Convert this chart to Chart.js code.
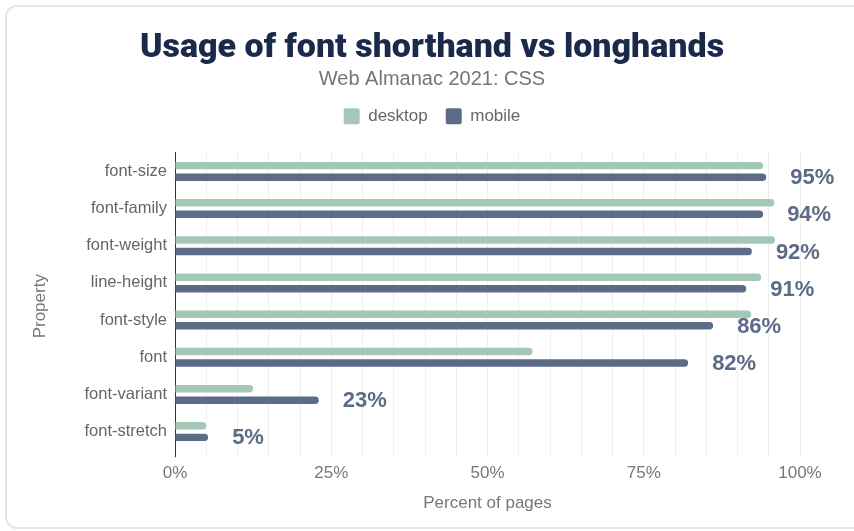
<!DOCTYPE html>
<html>
<head>
<meta charset="utf-8">
<script src="https://cdn.jsdelivr.net/npm/chart.js@4/dist/chart.umd.min.js"></script>
<style>
	body { margin: 0; background: #fff; }
	#card { position: absolute; left: 5px; top: 5px; width: 880px; height: 520px; border: 2px solid #e6e6e6; border-radius: 12px; }
	#wrap { position: absolute; left: 0; top: 0; width: 854px; height: 531px; }
</style>
</head>
<body>
<div id="card"></div>
<div id="wrap"><canvas id="chart"></canvas></div>
<script>
var properties = ["font-size", "font-family", "font-weight", "line-height", "font-style", "font", "font-variant", "font-stretch"];
var desktop = [94.1, 95.9, 96.0, 93.8, 92.2, 57.2, 12.5, 5.0];
var mobile = [94.6, 94.1, 92.3, 91.4, 86.1, 82.1, 23.0, 5.3];
var xTicks = [0, 25, 50, 75, 100];

var font = "'Liberation Sans', Arial, sans-serif";

// percent labels next to the mobile bars
var valueLabels = {
	id: "valueLabels",
	afterDatasetsDraw: function(chart) {
		var ctx = chart.ctx;
		var meta = chart.getDatasetMeta(1);
		ctx.save();
		ctx.font = "bold 22px " + font;
		ctx.fillStyle = "#5c6b88";
		ctx.textAlign = "left";
		ctx.textBaseline = "middle";
		meta.data.forEach(function(bar, i) {
			ctx.fillText(Math.round(mobile[i]) + "%", bar.x + 24, bar.y + 1);
		});
		ctx.restore();
	}
};

// empty axes, only used as spacers around the plot
function spacer(axis, position, size) {
	return {
		axis: axis,
		type: "linear",
		position: position,
		grid: { display: false },
		border: { display: false },
		ticks: { display: false },
		afterFit: function(scale) {
			if (axis == "x") scale.height = size;
			else scale.width = size;
		}
	};
}

var chart = new Chart(document.getElementById("chart"), {
	type: "bar",
	data: {
		labels: properties,
		datasets: [
			{ label: "desktop", data: desktop, backgroundColor: "#a5c8b6", borderRadius: 4, barPercentage: 0.65, categoryPercentage: 0.62 },
			{ label: "mobile", data: mobile, backgroundColor: "#5c6b88", borderRadius: 4, barPercentage: 0.65, categoryPercentage: 0.62 }
		]
	},
	options: {
		indexAxis: "y",
		responsive: true,
		maintainAspectRatio: false,
		animation: false,
		layout: { padding: { left: 30, right: 20, top: 0, bottom: 17 } },
		plugins: {
			title: {
				display: true,
				text: "Usage of font shorthand vs longhands",
				color: "#1b2a4a",
				font: { family: "Roboto", size: 34, weight: 900 },
				padding: { top: 28, bottom: 1 }
			},
			subtitle: {
				display: true,
				text: "Web Almanac 2021: CSS",
				color: "#757575",
				font: { family: font, size: 20, lineHeight: 1 },
				padding: { top: 0, bottom: 0 }
			},
			legend: {
				labels: {
					color: "#666",
					font: { family: font, size: 17 },
					boxWidth: 16,
					boxHeight: 16,
					padding: 18,
					useBorderRadius: true,
					borderRadius: 2
				}
			},
			tooltip: { enabled: false }
		},
		scales: {
			x: {
				min: 0,
				max: 100,
				afterBuildTicks: function(scale) {
					var t = [];
					for (var v = 0; v <= 100; v += 5) t.push({ value: v });
					scale.ticks = t;
				},
				ticks: {
					autoSkip: false,
					maxRotation: 0,
					color: "#777",
					font: { family: font, size: 17 },
					padding: 6,
					callback: function(v) { return xTicks.indexOf(v) >= 0 ? v + "%" : ""; }
				},
				grid: {
					color: function(c) { return c.tick && c.tick.value === 0 ? "#333" : "#eeeeee"; },
					tickLength: 7
				},
				border: { display: false },
				title: {
					display: true,
					text: "Percent of pages",
					color: "#777",
					font: { family: font, size: 17 },
					padding: { top: 4, bottom: 0 }
				}
			},
			y: {
				afterFit: function(scale) { scale.width = 145; },
				ticks: {
					color: "#666",
					font: { family: font, size: 16.5 },
					padding: 0
				},
				grid: { display: false },
				border: { display: true, color: "#333", width: 1 },
				title: {
					display: true,
					text: "Property  ",
					color: "#777",
					font: { family: font, size: 17 },
					padding: 0
				}
			},
			xTop: spacer("x", "top", 18),
			yRight: spacer("y", "right", 34)
		}
	},
	plugins: [valueLabels]
});
</script>
</body>
</html>
